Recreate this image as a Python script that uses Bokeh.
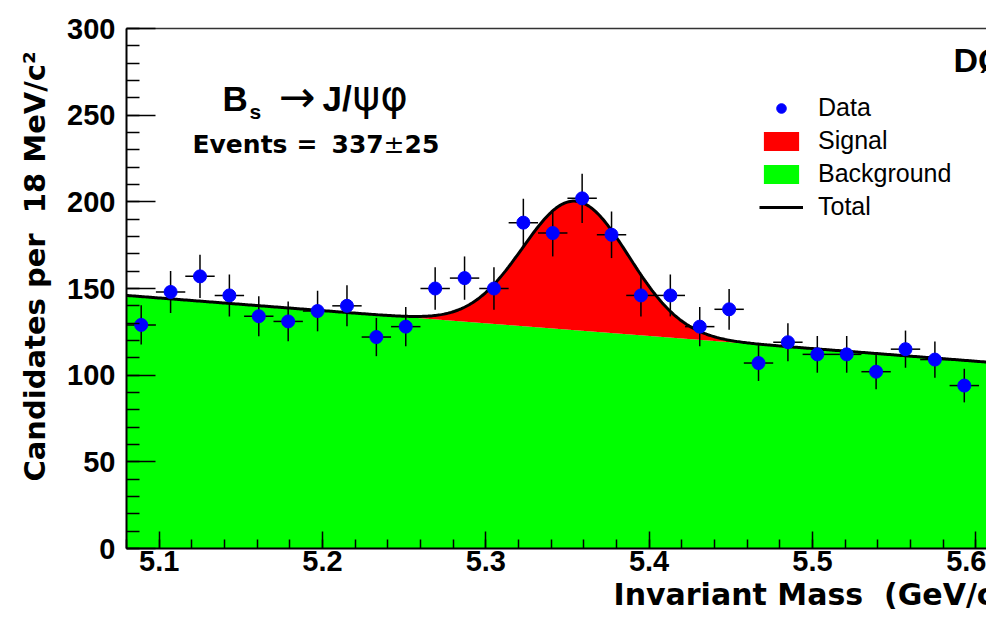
import numpy as np
from bokeh.plotting import figure
from bokeh.models import (Label, LinearAxis, SingleIntervalTicker, FixedTicker, Title,
                          ColumnDataSource, Legend, LegendItem, Range1d)
from bokeh.embed import file_html
from bokeh.resources import INLINE

# ---- data: B_s -> J/psi phi candidates, 18 MeV bins ----
bin_width = 0.018
mass_centers = [5.089, 5.107, 5.125, 5.143, 5.161, 5.179, 5.197, 5.215, 5.233,
                5.251, 5.269, 5.287, 5.305, 5.323, 5.341, 5.359, 5.377, 5.395,
                5.413, 5.431, 5.449, 5.467, 5.485, 5.503, 5.521, 5.539, 5.557,
                5.575, 5.593]
counts = [129, 148, 157, 146, 134, 131, 137, 140, 122, 128, 150, 156, 150, 188,
          182, 202, 181, 146, 146, 128, 138, 107, 119, 112, 112, 102, 115, 109, 94]

# ---- fit result: linear background + gaussian signal ----
bkg_at_lo = 146.0        # candidates/bin at m = 5.08
bkg_slope = -73.0        # candidates/bin per GeV
sig_events = 337
sig_error = 25
sig_mean = 5.355
sig_sigma = 0.0325

x_lo, x_hi = 5.08, 5.6066
y_lo, y_hi = 0, 300

W, H = 986, 621
FL, FT, FB = 126, 28, 548   # frame left / top / bottom in pixels
FW = W - FL
NB = "\u00a0"               # non-breaking space keeps double spaces in SVG text


def sx(px):
    return x_lo + (px - FL) * (x_hi - x_lo) / FW


def sy(py):
    return y_lo + (FB - py) * (y_hi - y_lo) / (FB - FT)


# fit curves
m = np.linspace(x_lo, x_hi, 600)
bkg = bkg_at_lo + bkg_slope * (m - x_lo)
sig = (sig_events * bin_width / (np.sqrt(2 * np.pi) * sig_sigma)
       * np.exp(-0.5 * ((m - sig_mean) / sig_sigma) ** 2))
total = bkg + sig
curve = ColumnDataSource(dict(m=m, zero=np.zeros_like(m), bkg=bkg, total=total))

cnt = np.array(counts, dtype=float)
err = np.sqrt(cnt)
xc = np.array(mass_centers)
pts = ColumnDataSource(dict(x=xc, y=cnt, ylo=cnt - err, yhi=cnt + err,
                            xlo=xc - bin_width / 2, xhi=xc + bin_width / 2))

p = figure(width=W, height=H, output_backend="svg", toolbar_location=None,
           x_range=Range1d(x_lo, x_hi), y_range=Range1d(y_lo, y_hi),
           x_axis_location=None, y_axis_location=None,
           min_border_left=FL, min_border_right=0, min_border_top=FT,
           min_border_bottom=H - FB)
p.outline_line_color = None
p.xgrid.grid_line_color = None
p.ygrid.grid_line_color = None
p.background_fill_color = "white"
p.border_fill_color = "white"

green = p.varea(x="m", y1="zero", y2="bkg", source=curve, fill_color="#00ff00")
red = p.varea(x="m", y1="bkg", y2="total", source=curve, fill_color="#ff0000")
tot = p.line(x="m", y="total", source=curve, line_color="black", line_width=3)

p.segment(x0="x", y0="ylo", x1="x", y1="yhi", source=pts, line_color="black", line_width=1.5)
p.segment(x0="xlo", y0="y", x1="xhi", y1="y", source=pts, line_color="black", line_width=1.5)
dots = p.scatter(x="x", y="y", source=pts, size=13, marker="circle",
                 fill_color="#0000ff", line_color="#0000ff")

# axes
font_b = "Liberation Sans"
yaxis = LinearAxis(ticker=SingleIntervalTicker(interval=50, num_minor_ticks=5))
yaxis.major_tick_in = 29
yaxis.major_tick_out = 0
yaxis.minor_tick_in = 13
yaxis.minor_tick_out = 0
yaxis.major_label_standoff = 11
xaxis = LinearAxis(ticker=SingleIntervalTicker(interval=0.1, num_minor_ticks=5))
xaxis.major_tick_in = 17
xaxis.major_tick_out = 0
xaxis.minor_tick_in = 9
xaxis.minor_tick_out = 0
xaxis.major_label_standoff = 2
for ax in (yaxis, xaxis):
    ax.axis_line_color = "black"
    ax.axis_line_width = 2
    ax.major_tick_line_color = "black"
    ax.minor_tick_line_color = "black"
    ax.major_tick_line_width = 1.5
    ax.minor_tick_line_width = 1.5
    ax.major_label_text_font = font_b
    ax.major_label_text_font_style = "bold"
    ax.major_label_text_font_size = "29px"
    ax.major_label_text_color = "black"
p.add_layout(yaxis, "left")
p.add_layout(xaxis, "below")

top = LinearAxis(ticker=FixedTicker(ticks=[]))
top.axis_line_color = "#333333"
top.axis_line_width = 1.5
top.major_label_text_font_size = "0px"
p.add_layout(top, "above")

# axis titles (placed in the side panels)
ytitle = Title(text=f"Candidates per{NB}{NB}18 MeV/c\u00b2", align="left", offset=67,
               text_font="DejaVu Sans", text_font_style="bold", text_font_size="29px",
               text_color="black", standoff=26)
p.add_layout(ytitle, "left")
xtitle = Title(text=f"Invariant Mass{NB}{NB}(GeV/c\u00b2)", align="left", offset=487,
               text_font="DejaVu Sans", text_font_style="bold", text_font_size="30px",
               text_color="black", standoff=3)
p.add_layout(xtitle, "below")


# decay channel and signal yield (baseline shifted up ~0.38 em for Label layout)
def add_text(px, py, text, size, font=font_b, style="bold"):
    p.add_layout(Label(x=sx(px), y=sy(py - 0.38 * size), text=text, text_font=font,
                       text_font_style=style, text_font_size=f"{size}px",
                       text_color="black", text_baseline="alphabetic", text_align="left"))


add_text(222, 111, "B", 35)
add_text(249, 119, "s", 21)
add_text(278, 113, "\u2192", 44, font="DejaVu Sans", style="normal")
add_text(322, 111, "J/", 35)
add_text(352, 111, "\u03c8\u03c6", 42, font="DejaVu Sans", style="normal")
add_text(192, 153, "Events", 25, font="DejaVu Sans")
add_text(296, 153, "=", 25, font="DejaVu Sans")
add_text(331, 153, f"{sig_events}", 25, font="DejaVu Sans")
add_text(383, 153, "\u00b1", 25, font="DejaVu Sans", style="normal")
add_text(404, 153, f"{sig_error}", 25, font="DejaVu Sans")
add_text(953, 72, "D\u00d8", 34)

legend = Legend(items=[LegendItem(label="Data", renderers=[dots]),
                       LegendItem(label="Signal", renderers=[red]),
                       LegendItem(label="Background", renderers=[green]),
                       LegendItem(label="Total", renderers=[tot])],
                location=(633, 327), orientation="vertical")
legend.border_line_color = None
legend.background_fill_alpha = 0
legend.glyph_width = 44
legend.glyph_height = 24
legend.label_height = 24
legend.spacing = 4
legend.padding = 0
legend.margin = 0
legend.label_standoff = 15
legend.label_text_font = font_b
legend.label_text_font_size = "25px"
legend.label_text_color = "black"
p.add_layout(legend, "center")

open("out.html", "w").write(file_html(p, INLINE))
